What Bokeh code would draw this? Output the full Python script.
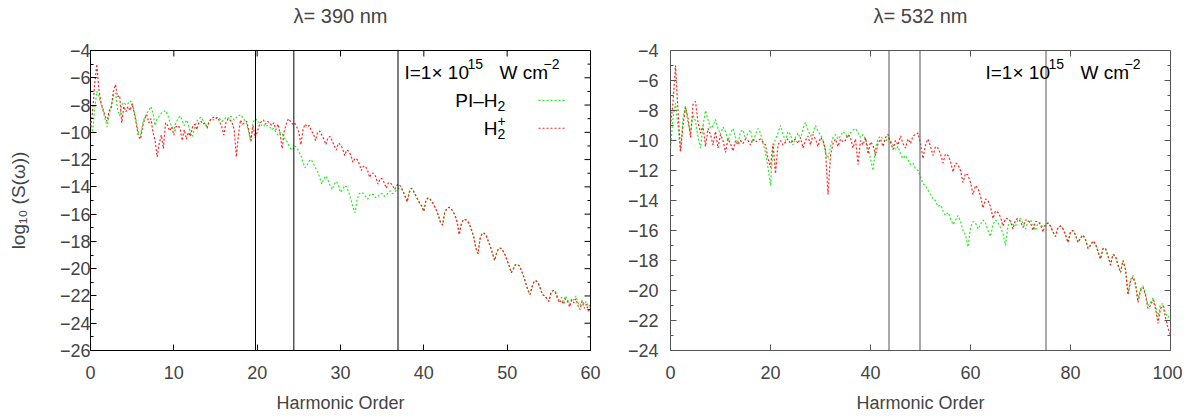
from bokeh.plotting import figure
from bokeh.models import Range1d, Span, Label, FixedTicker
from bokeh.layouts import row
from bokeh.embed import file_html
from bokeh.resources import INLINE

FONT = "Liberation Sans"

# ---------------- data: lambda = 390 nm ----------------
h390 = [i * 0.25 for i in range(241)]
red390 = [
    -9.6, -8.5, -6.5, -5.0, -6.8, -7.8, -8.3, -8.8, -9.2, -8.4, -8.2, -7.0, -6.5, -7.4, -7.3, -9.3,
    -8.1, -8.5, -8.1, -8.4, -7.9, -8.6, -9.4, -10.3, -10.5, -9.6, -9.0, -8.7, -9.3, -9.0, -10.0, -10.6,
    -11.8, -10.8, -10.2, -11.2, -9.3, -9.5, -9.9, -9.6, -10.2, -9.6, -9.5, -9.7, -10.6, -9.8, -10.5, -10.0,
    -10.3, -9.6, -9.4, -9.8, -9.3, -9.2, -9.4, -9.3, -9.7, -9.2, -9.0, -8.9, -9.0, -8.9, -9.2, -9.6,
    -10.2, -9.3, -9.0, -9.1, -9.3, -9.8, -11.8, -10.2, -9.1, -9.4, -9.3, -9.2, -9.9, -10.6, -9.5, -10.4,
    -10.0, -9.5, -9.2, -9.1, -9.4, -9.2, -9.3, -9.5, -9.3, -9.8, -9.4, -10.1, -11.2, -9.9, -9.4, -9.0,
    -9.2, -9.4, -9.3, -9.6, -10.0, -10.9, -9.8, -9.4, -9.6, -9.5, -9.9, -10.1, -10.6, -10.0, -9.9, -10.2,
    -10.5, -10.9, -10.4, -10.3, -10.6, -11.0, -11.3, -10.8, -10.9, -11.2, -11.7, -11.3, -11.4, -11.7, -12.2, -11.9,
    -12.0, -12.3, -12.8, -12.5, -12.5, -12.8, -13.3, -13.0, -13.0, -13.3, -13.8, -13.4, -13.4, -13.7, -14.1, -13.7,
    -13.7, -13.9, -14.2, -13.9, -13.8, -14.0, -14.3, -14.7, -15.1, -14.4, -14.1, -14.3, -14.6, -14.9, -15.2, -15.4,
    -15.8, -15.0, -14.8, -14.9, -15.1, -15.4, -15.7, -16.1, -16.6, -16.8, -15.9, -15.6, -15.5, -15.6, -15.8, -16.1,
    -16.6, -17.5, -16.7, -16.4, -16.4, -16.5, -16.8, -17.2, -17.7, -18.5, -18.9, -17.8, -17.4, -17.4, -17.6, -18.0,
    -18.4, -18.9, -19.4, -18.8, -18.5, -18.5, -18.7, -19.0, -19.4, -19.8, -20.3, -20.0, -19.7, -19.7, -19.8, -20.2,
    -20.6, -21.1, -21.6, -21.9, -21.3, -20.9, -20.9, -21.1, -21.5, -21.9, -22.0, -22.2, -22.4, -21.8, -21.6, -21.7,
    -22.1, -22.5, -22.3, -22.6, -22.2, -22.4, -22.8, -22.3, -22.5, -22.2, -22.7, -23.0, -22.4, -22.9, -22.6, -23.1,
    -22.8,
]
green390 = [
    -9.2, -10.0, -8.3, -7.0, -7.3, -7.9, -8.4, -9.0, -9.6, -8.7, -8.0, -7.3, -7.1, -8.3, -8.8, -8.0,
    -7.8, -8.0, -7.9, -7.7, -7.8, -8.5, -9.2, -10.0, -10.2, -9.4, -8.9, -8.6, -8.4, -8.1, -8.6, -9.5,
    -9.0, -8.8, -8.6, -8.5, -8.4, -8.7, -9.2, -9.6, -9.8, -9.3, -9.0, -8.8, -9.1, -9.5, -9.1, -9.4,
    -10.1, -10.3, -9.6, -9.2, -9.0, -8.9, -9.1, -9.4, -9.6, -9.2, -9.0, -9.1, -9.0, -8.9, -9.0, -9.2,
    -9.1, -8.9, -9.0, -8.8, -8.9, -9.1, -8.9, -8.8, -8.7, -8.9, -9.1, -9.4, -10.0, -10.7, -9.3, -9.0,
    -9.1, -9.3, -9.5, -9.4, -9.6, -9.5, -9.6, -9.8, -9.7, -10.0, -10.2, -10.0, -10.1, -10.4, -10.6, -10.9,
    -11.2, -11.3, -11.0, -11.1, -11.4, -11.7, -12.2, -12.6, -12.4, -12.1, -12.0, -12.3, -12.6, -12.9, -13.3, -13.8,
    -13.4, -13.2, -13.5, -13.9, -14.2, -13.8, -13.6, -13.9, -14.4, -14.2, -13.9, -14.0, -14.4, -14.9, -15.5, -15.9,
    -14.9, -14.5, -14.4, -14.5, -14.7, -14.9, -14.6, -14.5, -14.6, -14.8, -14.7, -14.5, -14.5, -14.7, -14.6, -14.4,
    -14.3, -14.5, -14.4, -14.2, -14.1, -14.1, -14.3, -14.7, -15.1, -14.4, -14.1, -14.3, -14.6, -14.9, -15.2, -15.4,
    -15.8, -15.0, -14.8, -14.9, -15.1, -15.4, -15.7, -16.1, -16.6, -16.8, -15.9, -15.6, -15.5, -15.6, -15.8, -16.1,
    -16.6, -17.5, -16.7, -16.4, -16.4, -16.5, -16.8, -17.2, -17.7, -18.5, -18.9, -17.8, -17.4, -17.4, -17.6, -18.0,
    -18.4, -18.9, -19.4, -18.8, -18.5, -18.5, -18.7, -19.0, -19.4, -19.8, -20.3, -20.0, -19.7, -19.7, -19.8, -20.2,
    -20.6, -21.1, -21.6, -21.9, -21.3, -20.9, -20.9, -21.1, -21.5, -21.9, -22.0, -22.2, -22.4, -21.8, -21.6, -21.6,
    -22.0, -22.3, -22.1, -22.4, -22.0, -22.3, -22.6, -22.2, -22.3, -22.0, -22.5, -22.7, -22.3, -22.6, -22.4, -22.8,
    -22.6,
]
cut390 = [19.8, 24.4, 36.9]

# ---------------- data: lambda = 532 nm ----------------
h532 = [i * 0.5 for i in range(201)]
red532 = [
    -9.0, -7.5, -5.0, -8.0, -10.7, -9.0, -7.8, -8.5, -9.8, -7.6, -7.4, -8.8, -9.5, -9.0, -10.4, -9.2,
    -9.6, -10.3, -9.4, -10.5, -9.6, -10.0, -10.8, -9.9, -10.2, -10.7, -10.0, -10.3, -10.0, -10.2, -9.9, -10.0,
    -10.3, -9.9, -10.1, -10.0, -9.9, -10.1, -10.3, -11.2, -11.8, -10.2, -12.2, -10.3, -10.0, -10.3, -10.1, -9.9,
    -10.2, -10.0, -9.9, -10.2, -9.8, -10.5, -10.0, -9.7, -10.3, -9.6, -9.9, -10.4, -9.8, -10.0, -10.6, -13.6,
    -11.0, -10.2, -9.9, -10.4, -9.9, -10.1, -10.0, -9.6, -9.8, -10.5, -9.9, -11.6, -10.0, -10.3, -9.8, -10.9,
    -10.1, -10.3, -11.0, -10.2, -9.9, -10.4, -9.8, -9.6, -10.1, -10.6, -10.0, -10.3, -9.7, -10.2, -10.5, -9.9,
    -10.2, -9.7, -9.6, -9.5, -10.2, -11.2, -10.3, -9.9, -10.4, -11.0, -10.4, -10.5, -10.9, -11.5, -10.9, -11.0,
    -11.4, -12.1, -11.5, -11.6, -12.0, -12.8, -12.2, -12.3, -12.8, -13.6, -13.0, -13.2, -13.7, -14.5, -13.9, -14.0,
    -14.4, -15.2, -14.7, -14.8, -15.1, -15.7, -15.2, -15.2, -15.4, -15.9, -15.3, -15.2, -15.4, -15.8, -15.3, -15.3,
    -15.5, -16.0, -15.4, -15.4, -15.6, -16.1, -15.6, -15.5, -15.7, -16.1, -16.4, -15.8, -15.7, -15.9, -16.3, -16.8,
    -16.1, -16.0, -16.3, -16.8, -16.5, -16.3, -16.6, -17.2, -17.0, -16.7, -16.9, -17.4, -17.9, -17.2, -17.2, -17.7,
    -18.3, -17.6, -17.7, -18.3, -18.8, -18.0, -18.6, -20.3, -19.4, -19.1, -19.6, -20.8, -20.0, -19.8, -20.3, -21.2,
    -21.0, -20.6, -21.2, -22.2, -21.2, -21.0, -21.8, -22.5, -23.0,
]
green532 = [
    -10.5, -8.5, -7.5, -9.0, -10.8, -8.5, -7.7, -8.8, -9.5, -8.3, -8.7, -9.8, -10.5, -9.0, -8.0, -8.6,
    -9.2, -9.0, -8.6, -9.2, -9.6, -9.1, -9.4, -10.0, -9.5, -9.2, -9.8, -10.2, -9.4, -9.3, -9.9, -9.5,
    -9.3, -10.1, -9.6, -9.2, -9.5, -10.2, -10.8, -11.8, -13.0, -10.5, -9.9, -9.5, -9.0, -9.6, -10.0, -9.4,
    -9.6, -10.3, -9.8, -9.5, -9.9, -9.2, -8.8, -9.3, -9.7, -9.5, -9.0, -9.4, -9.6, -10.0, -10.8, -11.2,
    -10.4, -9.8, -9.6, -9.9, -9.7, -9.4, -9.6, -9.8, -9.5, -9.3, -9.2, -9.5, -9.8, -9.6, -9.9, -10.5,
    -11.2, -12.0, -10.5, -9.9, -9.7, -9.9, -10.1, -9.8, -10.0, -10.3, -10.6, -10.4, -10.9, -11.2, -11.0, -11.3,
    -11.6, -11.5, -11.9, -12.0, -12.4, -12.9, -13.0, -13.3, -13.6, -13.9, -14.0, -14.4, -14.3, -14.7, -15.0, -14.8,
    -15.2, -15.6, -15.3, -15.0, -15.4, -16.0, -16.3, -17.1, -15.8, -15.4, -15.5, -15.9, -15.6, -15.3, -15.5, -16.0,
    -16.4, -15.6, -15.3, -15.5, -15.8, -16.2, -17.0, -15.7, -15.4, -15.6, -15.7, -15.3, -15.2, -15.5, -15.9, -15.4,
    -15.3, -15.6, -16.0, -15.5, -15.5, -15.8, -15.6, -15.5, -15.7, -16.1, -16.4, -15.8, -15.7, -15.9, -16.3, -16.8,
    -16.1, -16.0, -16.3, -16.8, -16.5, -16.3, -16.6, -17.2, -17.0, -16.7, -16.9, -17.4, -17.9, -17.2, -17.2, -17.7,
    -18.3, -17.6, -17.7, -18.3, -18.8, -18.0, -18.6, -20.2, -19.3, -19.0, -19.5, -20.6, -19.9, -19.7, -20.2, -21.0,
    -20.8, -20.5, -21.0, -21.8, -20.9, -20.9, -21.5, -21.8, -21.6,
]
cut532 = [43.7, 49.9, 75.1]

titles = ["λ= 390 nm", "λ= 532 nm"]
x_label = "Harmonic Order"
y_label = "log₁₀ (S(ω))"
# intensity annotation "I=1× 10^15  W cm^-2" split into base / superscript pieces
intensity_parts = [("I=1× 10", False), ("15", True), ("W cm", False), ("−2", True)]
# legend entries: (base, subscript, superscript)
legend_parts = [("PI–H", "2", ""), ("H", "2", "+")]

GREEN = "#22ee22"
RED = "#ff2020"
FRAME_W, FRAME_H, FRAME_TOP = 500, 301, 49


def minus(v):
    return ("−" + str(abs(v))) if v < 0 else str(v)


def make_panel(title, xs, green, red, cuts, xmax, xstep, ymin, width, bl, br,
               frame_color, ylabel, ystandoff, fl, intensity_px, legend):
    # a trailing empty line lifts the title higher above the frame
    p = figure(width=width, height=419, output_backend="svg", toolbar_location=None,
               x_range=Range1d(0, xmax), y_range=Range1d(ymin, -4),
               min_border_left=bl, min_border_right=br, min_border_top=FRAME_TOP,
               min_border_bottom=69, title=title + "\n")
    p.title.align = "center"
    p.title.vertical_align = "bottom"
    p.title.text_font = FONT
    p.title.text_font_size = "20px"
    p.title.text_line_height = 1.0
    p.title.text_font_style = "normal"
    p.title.standoff = 4
    p.grid.visible = False
    p.outline_line_color = frame_color
    p.outline_line_width = 1

    yspan = -4 - ymin

    def X(px):  # page pixel -> data x
        return (px - fl) / FRAME_W * xmax

    def Y(py):  # page pixel -> data y
        return -4 - (py - FRAME_TOP) / FRAME_H * yspan

    xticks = list(range(0, xmax + 1, xstep))
    yticks = list(range(ymin, -3, 2))
    yminor = list(range(ymin, -3))
    xt = FixedTicker(ticks=xticks, minor_ticks=[])
    yt = FixedTicker(ticks=yticks, minor_ticks=yminor)

    for ax in p.xaxis:
        ax.ticker = xt
        ax.axis_label = x_label
        ax.axis_label_text_font = FONT
        ax.axis_label_text_font_size = "18px"
        ax.axis_label_text_font_style = "normal"
        ax.axis_label_standoff = 11
        ax.major_label_standoff = 15
        ax.major_label_text_font = FONT
        ax.major_label_text_font_size = "18px"
    for ax in p.yaxis:
        ax.ticker = yt
        ax.major_label_overrides = {v: minus(v) for v in yticks}
        ax.major_label_standoff = ystandoff
        ax.major_label_text_font = FONT
        ax.major_label_text_font_size = "18px"
        if ylabel:
            ax.axis_label = ylabel
            ax.axis_label_text_font = FONT
            ax.axis_label_text_font_size = "19px"
            ax.axis_label_text_font_style = "normal"
            ax.axis_label_standoff = 28
    for ax in list(p.xaxis) + list(p.yaxis):
        ax.axis_line_color = None
        ax.major_tick_in = 6
        ax.major_tick_out = 0
        ax.minor_tick_in = 3
        ax.minor_tick_out = 0
        ax.major_tick_line_color = frame_color
        ax.minor_tick_line_color = frame_color

    # mirrored tick marks on the top and right frame edges
    dx = xmax / FRAME_W
    dy = yspan / FRAME_H
    p.segment(x0=xticks, y0=[-4] * len(xticks), x1=xticks, y1=[-4 - 6 * dy] * len(xticks),
              line_color=frame_color, line_width=1)
    ylen = [6 * dx if v % 2 == 0 else 3 * dx for v in yminor]
    p.segment(x0=[xmax] * len(yminor), y0=yminor, x1=[xmax - l for l in ylen], y1=yminor,
              line_color=frame_color, line_width=1)

    p.line(xs, green, line_color=GREEN, line_width=1.2, line_dash="2 2")
    p.line(xs, red, line_color=RED, line_width=1.2, line_dash="2 2")

    for c in cuts:
        p.add_layout(Span(location=c, dimension="height", line_color=frame_color,
                          line_width=1))

    # intensity annotation
    for (txt, sup), px in zip(intensity_parts, intensity_px):
        p.add_layout(Label(x=X(px), y=Y(63 if sup else 71), text=txt,
                           text_align="left", text_baseline="middle", text_font=FONT,
                           text_font_size="14px" if sup else "19px", text_color="black"))

    if legend:
        rows_y = [99, 127]
        base_right = 497
        colors = [GREEN, RED]
        for (base, sub, sup), ry, col in zip(legend_parts, rows_y, colors):
            p.add_layout(Label(x=X(base_right), y=Y(ry), text=base, text_align="right",
                               text_baseline="middle", text_font=FONT,
                               text_font_size="19px", text_color="black"))
            p.add_layout(Label(x=X(base_right), y=Y(ry + 6), text=sub, text_align="left",
                               text_baseline="middle", text_font=FONT,
                               text_font_size="14px", text_color="black"))
            if sup:
                p.add_layout(Label(x=X(base_right), y=Y(ry - 7), text=sup, text_align="left",
                                   text_baseline="middle", text_font=FONT,
                                   text_font_size="14px", text_color="black"))
            # legend sample line
            p.line([X(538), X(565)], [Y(ry), Y(ry)], line_color=col, line_width=1.2,
                   line_dash="2 2")
    return p


p1 = make_panel(titles[0], h390, green390, red390, cut390, 60, 10, -26,
                624, 90, 34, "black", y_label, 0, 90, [404, 467, 499, 543], True)
p2 = make_panel(titles[1], h532, green532, red532, cut532, 100, 20, -24,
                558, 46, 12, "#555555", None, 12, 670, [985, 1048, 1080, 1124], False)

layout = row(p1, p2)
open("out.html", "w").write(file_html(layout, INLINE))
